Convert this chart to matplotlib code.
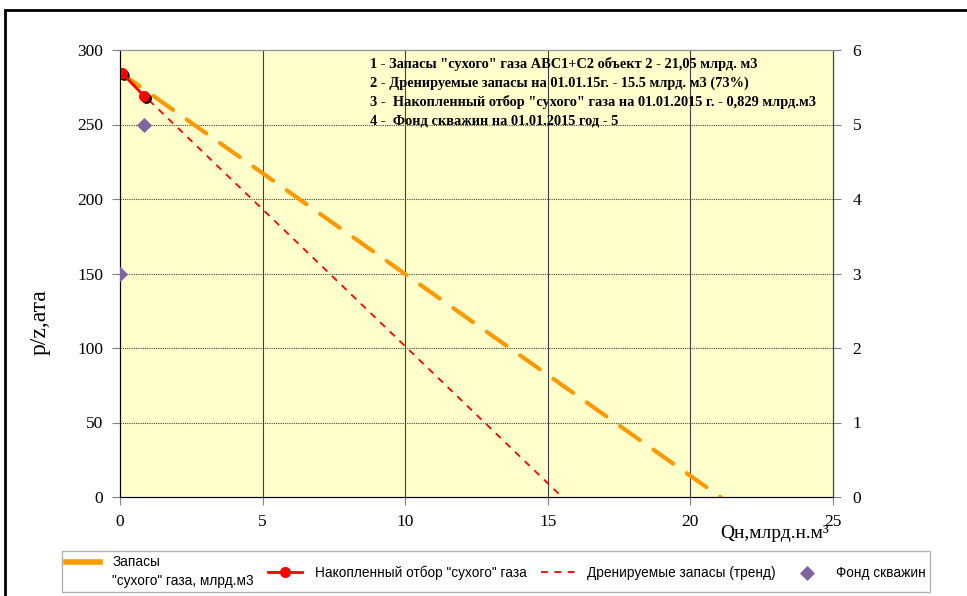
import matplotlib
matplotlib.use("Agg")
import matplotlib.pyplot as plt
import matplotlib.patheffects as pe
from matplotlib.patches import Rectangle
from matplotlib.legend_handler import HandlerLine2D

# Data
reserves_q = [0.0, 21.05]
reserves_pz = [285, 0]
cum_q = [0.07, 0.85]
cum_pz = [284.5, 269]
trend_q = [0.0, 15.5]
trend_pz = [285, 0]
wells_q = [0.0, 0.83]
wells_n = [3, 5]

x_ticks = [0, 5, 10, 15, 20, 25]
y_ticks = [0, 50, 100, 150, 200, 250, 300]
y2_ticks = [0, 1, 2, 3, 4, 5, 6]

notes = [
    '1 - Запасы "сухого" газа АВС1+С2 объект 2 - 21,05 млрд. м3',
    '2 - Дренируемые запасы на 01.01.15г. - 15.5 млрд. м3 (73%)',
    '3 -  Накопленный отбор "сухого" газа на 01.01.2015 г. - 0,829 млрд.м3',
    '4 -  Фонд скважин на 01.01.2015 год - 5',
]

serif = ['Liberation Serif', 'DejaVu Serif']
sans = ['Liberation Sans Narrow', 'Liberation Sans', 'DejaVu Sans']


class UpHandler(HandlerLine2D):
    def create_artists(self, legend, orig_handle, xdescent, ydescent, width, height, fontsize, trans):
        return super().create_artists(legend, orig_handle, xdescent, ydescent - 1.45 * fontsize,
                                      width, height, fontsize, trans)


fig = plt.figure(figsize=(9.67, 5.96), dpi=100)
fig.patches.append(Rectangle((5/967, -0.1), 1.2, 1 - 10/596 + 0.1, transform=fig.transFigure,
                             fill=False, edgecolor='black', linewidth=2))

ax = fig.add_axes([120/967, 1 - 497/596, 713/967, 447/596])
ax.set_facecolor('#FFFFCC')
ax.set_xlim(0, 25)
ax.set_ylim(0, 300)
ax.set_xticks(x_ticks)
ax.set_yticks(y_ticks)

for v in x_ticks[1:-1]:
    ax.axvline(v, color='#404040', lw=0.8, zorder=1)
for v in y_ticks[1:-1]:
    ax.axhline(v, color='#404040', lw=0.8, ls=(0, (1, 1)), zorder=1)

l1, = ax.plot(reserves_q, reserves_pz, color='#FF9900', lw=3.0, ls=(0, (5.8, 4.0)),
              dash_capstyle='round', zorder=3, label='Запасы\n"сухого" газа, млрд.м3')
l3, = ax.plot(trend_q, trend_pz, color='#FF0000', lw=1.3, ls=(0, (3.8, 3.6)), zorder=4,
              label='Дренируемые запасы (тренд)')
ax.plot(cum_q, cum_pz, ls='none', marker='o', markersize=7.5, color='#FF0000', zorder=5,
        path_effects=[pe.SimplePatchShadow(offset=(1.8, -1.8), shadow_rgbFace='black', alpha=1.0)])
l2, = ax.plot(cum_q, cum_pz, color='#FF0000', lw=2, marker='o', markersize=7,
              markerfacecolor='#FF0000', markeredgecolor='#FF0000', zorder=6,
              label='Накопленный отбор "сухого" газа')

for s in ['left', 'bottom']:
    ax.spines[s].set_color('#404040')
ax.spines['top'].set_color('#909090')
ax.spines['right'].set_color('#404040')

ax2 = ax.twinx()
ax2.set_ylim(0, 6)
ax2.set_yticks(y2_ticks)
l4 = ax2.scatter(wells_q, wells_n, marker='D', s=45, color='#8064A2', zorder=6, label='Фонд скважин')
ax2.spines['right'].set_color('#404040')
ax2.spines['top'].set_color('#909090')

for a in (ax, ax2):
    a.tick_params(axis='both', labelsize=12.5, color='#808080', length=6, width=0.8)
    for lab in a.get_xticklabels() + a.get_yticklabels():
        lab.set_fontfamily(serif)
ax.tick_params(axis='x', pad=6)
ax.tick_params(axis='y', pad=6)
ax2.tick_params(axis='y', pad=8)

fig.text(40/967, 1 - 322/596, 'p/z,ата', rotation=90, ha='center', va='center', fontsize=17, family=serif)
fig.text(829/967, 1 - 533/596, 'Qн,млрд.н.м³', ha='right', va='center', fontsize=14, family=serif)

ax.text(0.3507, 0.984, '\n'.join(notes), transform=ax.transAxes, ha='left', va='top',
        fontsize=10.4, fontweight='bold', family=serif, linespacing=1.5, zorder=7)

leg = fig.legend(handles=[l1, l2, l3, l4], loc='lower left', bbox_to_anchor=(62/967, 4/596, 868/967, 44/596),
                 mode='expand', ncol=4, frameon=True, fancybox=False, prop={'family': sans, 'size': 9.8},
                 handlelength=2.5, handletextpad=0.9, borderaxespad=0, borderpad=0.3,
                 handler_map={l1: UpHandler()})
leg.get_frame().set_edgecolor('#A0A0A0')
leg.get_frame().set_linewidth(1)
leg.legend_handles[0].set_linestyle('-')
leg.legend_handles[0].set_linewidth(4)
leg.texts[0].set_linespacing(1.45)

fig.savefig('out.png', dpi=100)
